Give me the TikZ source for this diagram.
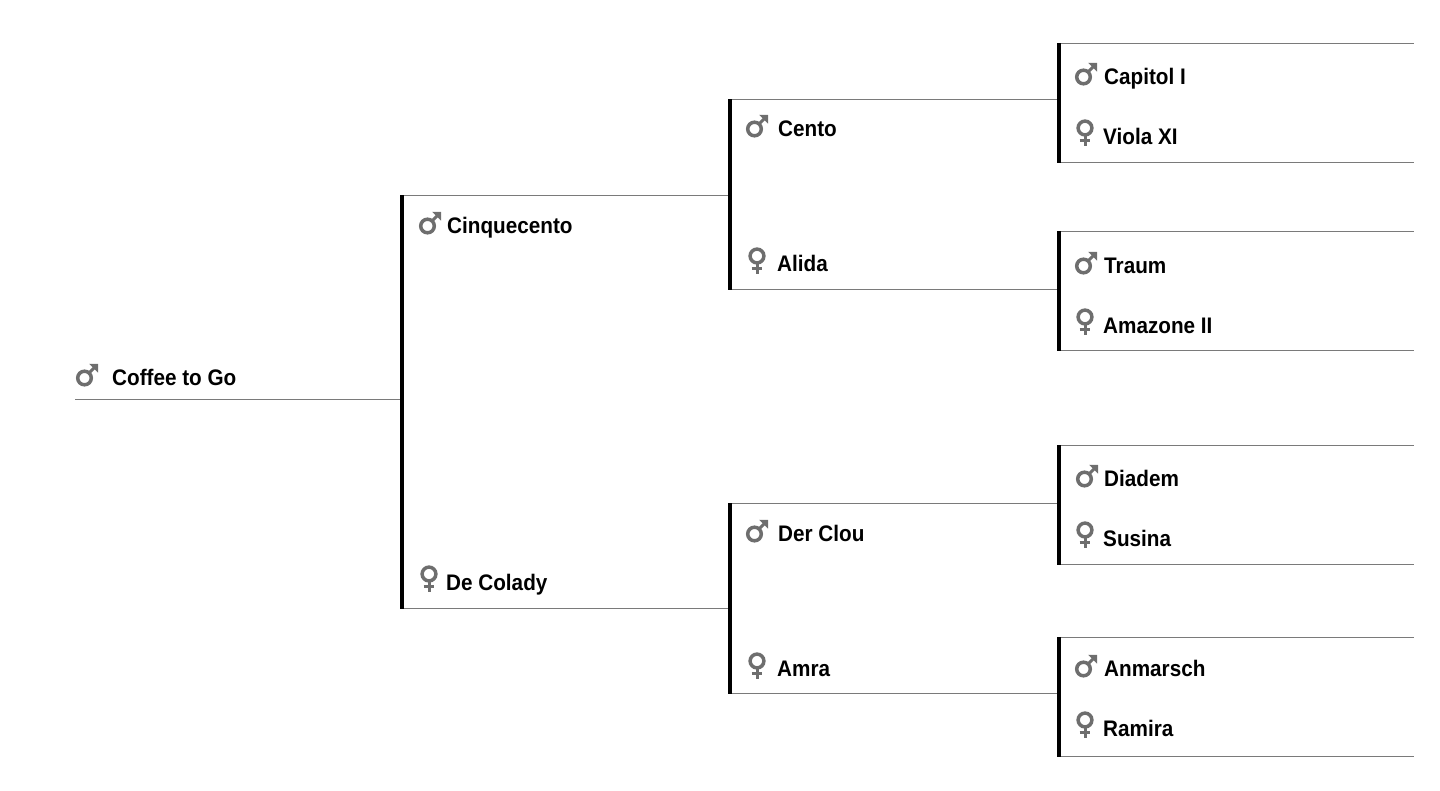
\documentclass[tikz,border=0pt]{standalone}
\usepackage{fontspec}
\setmainfont{Liberation Sans}[BoldFeatures={FakeStretch=0.92}]
\definecolor{rule}{HTML}{7A7A7A}
\definecolor{icon}{HTML}{6E6E6E}
\tikzset{
  x=1pt,y=-1pt,
  lbl/.style={anchor=base west,inner sep=0pt,font=\fontsize{22.5}{26}\selectfont\bfseries,text=black},
  thin rule/.style={draw=rule,line width=1.2pt},
  bar/.style={draw=black,line width=4.2pt},
  pics/male/.style={code={
    \draw[icon,line width=3.5pt] (0.5,0) circle (6.8);
    \draw[icon,line width=3pt] (4.5,-4.5) -- (11,-11);
    \fill[icon] (5.2,-14.2) -- (14,-14.2) -- (14,-5.4) -- (11.2,-8.2) -- (8.4,-11) -- cycle;
  }},
  pics/female/.style={code={
    \draw[icon,line width=3.5pt] (0,0) circle (6.9);
    \draw[icon,line width=3pt] (0,8) -- (0,18.2);
    \draw[icon,line width=3pt] (-5.4,12.8) -- (5.4,12.8);
  }}
}
\begin{document}
\begin{tikzpicture}
\useasboundingbox (0,0) rectangle (1440,790);
% named points
\foreach \n/\x/\y in {
  r0/75/399.5, r1/402/399.5,
  a0/402/195, a1/402/609, at/728/195.5, ab/728/608.5, at0/402/195.5, ab0/402/608.5,
  b0/730/99, b1/730/290, bt0/730/99.5, bt1/1058/99.5, bb0/730/289.5, bb1/1058/289.5,
  c0/730/503, c1/730/694, ct0/730/503.5, ct1/1058/503.5, cb0/730/693.5, cb1/1058/693.5,
  d0/1059/43, d1/1059/163, dt0/1059/43.5, dt1/1414/43.5, db0/1059/162.5, db1/1414/162.5,
  e0/1059/231, e1/1059/351, et0/1059/231.5, et1/1414/231.5, eb0/1059/350.5, eb1/1414/350.5,
  f0/1059/445, f1/1059/565, ft0/1059/445.5, ft1/1414/445.5, fb0/1059/564.5, fb1/1414/564.5,
  g0/1059/637, g1/1059/757, gt0/1059/637.5, gt1/1414/637.5, gb0/1059/756.5, gb1/1414/756.5}
  {\coordinate (\n) at (\x,\y);}
% thin rules
\foreach \p/\q in {r0/r1,at0/at,ab0/ab,bt0/bt1,bb0/bb1,ct0/ct1,cb0/cb1,dt0/dt1,db0/db1,et0/et1,eb0/eb1,ft0/ft1,fb0/fb1,gt0/gt1,gb0/gb1}
  \draw[thin rule] (\p) -- (\q);
% black bars
\foreach \p/\q in {a0/a1,b0/b1,c0/c1,d0/d1,e0/e1,f0/f1,g0/g1}
  \draw[bar] (\p) -- (\q);
% labels
\node[lbl] (coffee) at (112,385) {Coffee to Go};
\node[lbl] (cinq) at (447,233) {Cinquecento};
\node[lbl] (colady) at (446,590) {De Colady};
\node[lbl] (cento) at (778,136) {Cento};
\node[lbl] (alida) at (777,271) {Alida};
\node[lbl] (clou) at (778,541) {Der Clou};
\node[lbl] (amra) at (777,676) {Amra};
\node[lbl] (capitol) at (1104,84) {Capitol I};
\node[lbl] (viola) at (1103,144) {Viola XI};
\node[lbl] (traum) at (1104,273) {Traum};
\node[lbl] (amazone) at (1103,333) {Amazone II};
\node[lbl] (diadem) at (1104,486) {Diadem};
\node[lbl] (susina) at (1103,546) {Susina};
\node[lbl] (anmarsch) at (1104,676) {Anmarsch};
\node[lbl] (ramira) at (1103,736) {Ramira};
% icons
\foreach \x/\y in {84/378,427/226,754/129,1083/77,1083/266,1084/479,1083/669,754/534}
  \pic at (\x,\y) {male};
\foreach \x/\y in {429/574,757/256,757/661,1085/128,1085/317,1085/530,1085/720}
  \pic at (\x,\y) {female};
\end{tikzpicture}
\end{document}
